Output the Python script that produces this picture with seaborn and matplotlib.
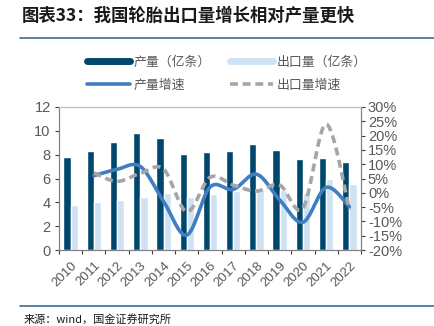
import numpy as np
import pandas as pd
import matplotlib
matplotlib.use("Agg")
import matplotlib.pyplot as plt
from matplotlib.lines import Line2D
import seaborn as sns

years = ["2010", "2011", "2012", "2013", "2014", "2015", "2016", "2017", "2018", "2019", "2020", "2021", "2022"]
production = [7.83, 8.30, 9.04, 9.80, 9.42, 8.05, 8.19, 8.30, 8.86, 8.39, 7.60, 7.72, 7.36]
exports = [3.78, 4.00, 4.20, 4.47, 4.80, 4.47, 4.72, 4.92, 5.03, 5.03, 4.80, 5.96, 5.57]
prod_growth = [None, 6.0, 8.2, 9.2, -3.0, -14.8, 2.0, 1.2, 6.5, -2.5, -10.3, 1.9, -4.9]
export_growth = [None, 7.0, 4.0, 6.8, 8.3, -6.6, 5.4, 2.7, 0.6, 2.7, -5.4, 24.0, -6.0]

label_prod = "产量（亿条）"
label_exp = "出口量（亿条）"
label_pg = "产量增速"
label_eg = "出口量增速"
title = "图表33：我国轮胎出口量增长相对产量更快"
source = "来源：wind，国金证券研究所"

sns.set_theme(style="white")
plt.rcParams["font.family"] = ["Liberation Sans", "Noto Sans CJK SC", "DejaVu Sans"]

dark = "#00476E"
light = "#CFE2F3"
blue = "#3F7EC0"
grey = "#A6A6A6"
tick_col = "#595959"

df = pd.DataFrame({
    "year": years * 2,
    "value": production + exports,
    "series": [label_prod] * len(years) + [label_exp] * len(years),
})

fig = plt.figure(figsize=(4.35, 3.26), dpi=100)
ax = fig.add_axes([59 / 435, 1 - 250 / 326, (361 - 59) / 435, (250 - 107) / 326])

sns.barplot(data=df, x="year", y="value", hue="series", palette=[dark, light],
            width=0.62, gap=0, ax=ax, legend=False, saturation=1)
ax.set_ylim(0, 12)
ax.set_yticks(range(0, 13, 2))
ax.set_xlim(-0.5, len(years) - 0.5)
ax.set_xlabel("")
ax.set_ylabel("")


def smooth(xs, ys, n=30):
    pts = [(x, y) for x, y in zip(xs, ys) if y is not None]
    P = np.array(pts, dtype=float)
    out = []
    for i in range(len(P) - 1):
        p0 = P[i - 1] if i > 0 else P[i]
        p1 = P[i]
        p2 = P[i + 1]
        p3 = P[i + 2] if i + 2 < len(P) else P[i + 1]
        c1 = p1 + (p2 - p0) / 6
        c2 = p2 - (p3 - p1) / 6
        t = np.linspace(0, 1, n)[:, None]
        seg = ((1 - t) ** 3) * p1 + 3 * ((1 - t) ** 2) * t * c1 + 3 * (1 - t) * t ** 2 * c2 + t ** 3 * p2
        out.append(seg if i == 0 else seg[1:])
    return np.vstack(out)


ax2 = ax.twinx()
xs = np.arange(len(years))
s1 = smooth(xs, prod_growth)
s2 = smooth(xs, export_growth)
ax2.plot(s1[:, 0], s1[:, 1], color=blue, lw=2.6, solid_capstyle="round")
ax2.plot(s2[:, 0], s2[:, 1], color=grey, lw=2.6, ls=(0, (2.2, 1.3)))
ax2.set_ylim(-20, 30)
ax2.set_yticks(range(-20, 31, 5))
ax2.set_yticklabels([f"{v}%" for v in range(-20, 31, 5)])
ax2.set_xlim(-0.5, len(years) - 0.5)

for a in (ax, ax2):
    for sp in a.spines.values():
        sp.set_color("#808080")
        sp.set_linewidth(0.8)
    a.grid(False)
    a.tick_params(colors="#404040", labelcolor=tick_col, length=3, width=0.8)

ax.spines["top"].set_color("#BFBFBF")
ax2.spines["top"].set_color("#BFBFBF")
ax.tick_params(axis="y", left=True, labelsize=10.5, pad=3)
ax2.tick_params(axis="y", right=True, labelsize=10.5, pad=2)

ax.set_xticks(xs)
ax.set_xticklabels(years, rotation=45, ha="right", rotation_mode="anchor", fontsize=9.5, color=tick_col)
ax.tick_params(axis="x", bottom=False, pad=4)
ax.set_xticks(np.arange(-0.5, len(years), 1), minor=True)
ax.tick_params(axis="x", which="minor", bottom=True, length=3, width=0.8, color="#404040")

h_prod = Line2D([], [], color=dark, lw=5)
h_exp = Line2D([], [], color=light, lw=5)
h_pg = Line2D([], [], color=blue, lw=2.6)
h_eg = Line2D([], [], color=grey, lw=2.6, ls=(0, (2.2, 1.3)))
handles = [h_prod, h_pg, h_exp, h_eg]
labels = [label_prod, label_pg, label_exp, label_eg]
leg = fig.legend(handles, labels, ncol=2, loc="upper left", bbox_to_anchor=(82 / 435, 1 - 51 / 326),
                 frameon=False, fontsize=9.3, handlelength=3.3, handletextpad=0.3,
                 columnspacing=1.5, labelspacing=0.85, borderaxespad=0)
for t in leg.get_texts():
    t.set_color(tick_col)

fig.text(22 / 435, 1 - 16 / 326, title, fontsize=12.5, fontweight="bold", color="#1A1A1A",
         va="center", ha="left", family=["Noto Sans CJK SC", "DejaVu Sans"], style="italic")
fig.add_artist(Line2D([20 / 435, 1.0], [1 - 38 / 326] * 2, color="#3A6E99", lw=1.2, transform=fig.transFigure))
fig.add_artist(Line2D([20 / 435, 1.0], [1 - 306 / 326] * 2, color="#3A6E99", lw=1.2, transform=fig.transFigure))
fig.text(24 / 435, 1 - 319 / 326, source, fontsize=8, color="#1A1A1A", va="center", ha="left",
         family=["Noto Sans CJK SC", "DejaVu Sans"])

fig.savefig("out.png", dpi=100)
